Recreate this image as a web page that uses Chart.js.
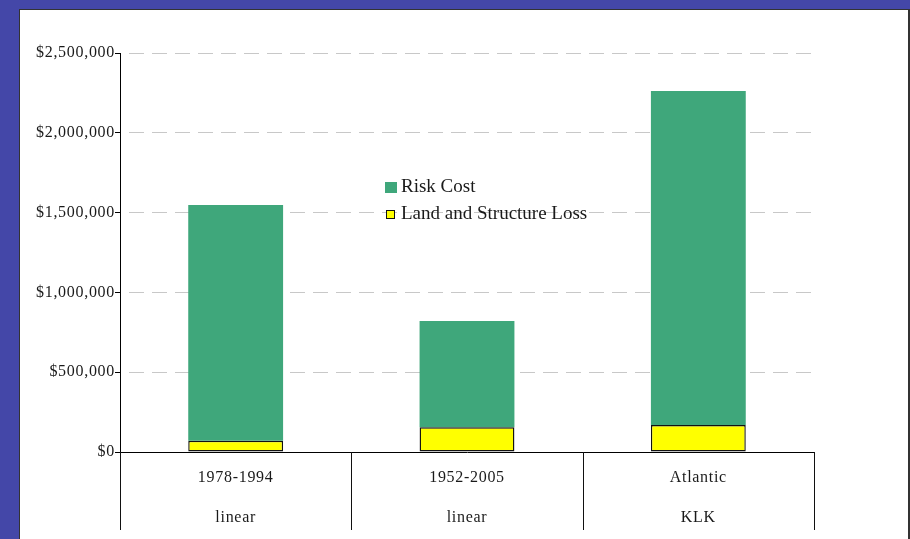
<!DOCTYPE html>
<html>
<head>
<meta charset="utf-8">
<script src="https://cdn.jsdelivr.net/npm/chart.js@4.4.1/dist/chart.umd.min.js"></script>
<style>
  html, body { margin: 0; padding: 0; width: 910px; height: 539px; overflow: hidden; background: #4447a8; }
  #panel { position: absolute; left: 19px; top: 9px; width: 891px; height: 545px; background: #fff;
           border: 1px solid #333; border-right: 2px solid #333; box-sizing: border-box; }
  #c { position: absolute; left: 0; top: 0; }
</style>
</head>
<body>
<div id="panel"></div>
<canvas id="c" width="910" height="539"></canvas>
<script>
// ===== Datos =====
const categories = [['1978-1994', 'linear'], ['1952-2005', 'linear'], ['Atlantic', 'KLK']];
const landLoss = [70000, 155000, 169000];
const riskCost = [1478000, 666000, 2093000];
const yTicks = [0, 500000, 1000000, 1500000, 2000000, 2500000];

const SERIF = "'Liberation Serif', 'Times New Roman', serif";
const GREEN = '#3fa77b', YELLOW = '#ffff00', INK = '#1a1a1a';

// divisores de categorías + leyenda dentro del gráfico
const extras = {
    id: 'extras',
    beforeLayout(chart) { chart.ctx.letterSpacing = '0.7px'; },
    beforeDraw(chart) { chart.ctx.letterSpacing = '0.7px'; },
    afterDraw(chart) {
        const { ctx, chartArea, scales: { x } } = chart;
        const n = chart.data.labels.length;
        const w = (x.right - x.left) / n;
        ctx.save();
        ctx.letterSpacing = '0px';
        ctx.strokeStyle = '#111';
        ctx.lineWidth = 1;
        for (let i = 0; i <= n; i++) {
            const px = Math.round(x.left + i * w) + 0.5;
            ctx.beginPath();
            ctx.moveTo(px, chartArea.bottom);
            ctx.lineTo(px, chartArea.bottom + 78);
            ctx.stroke();
        }
        // leyenda
        const items = chart.data.datasets.slice().reverse();
        ctx.font = '19px ' + SERIF;
        ctx.textBaseline = 'middle';
        items.forEach((ds, i) => {
            const cy = 187 + i * 27;
            if (ds.borderWidth) {
                ctx.fillStyle = ds.backgroundColor;
                ctx.fillRect(386, cy - 4, 9, 9);
                ctx.strokeStyle = ds.borderColor;
                ctx.strokeRect(386.5, cy - 3.5, 8, 8);
            } else {
                ctx.fillStyle = ds.backgroundColor;
                ctx.fillRect(385, cy - 5, 12, 11);
            }
            ctx.fillStyle = INK;
            ctx.fillText(ds.label, 401, cy);
        });
        ctx.restore();
    }
};

new Chart(document.getElementById('c'), {
    type: 'bar',
    data: {
        labels: categories,
        datasets: [
            { label: 'Land and Structure Loss', data: landLoss, backgroundColor: YELLOW, borderColor: '#111',
              borderWidth: 1.4, borderSkipped: false, categoryPercentage: 1, barPercentage: 0.41 },
            { label: 'Risk Cost', data: riskCost, backgroundColor: GREEN, borderWidth: 0,
              categoryPercentage: 1, barPercentage: 0.41 }
        ]
    },
    options: {
        responsive: false,
        animation: false,
        layout: { padding: { top: 53, right: 96, left: 0, bottom: 0 } },
        plugins: { legend: { display: false }, tooltip: { enabled: false } },
        scales: {
            x: {
                stacked: true,
                grid: { display: false, drawTicks: false },
                border: { color: '#000', width: 1 },
                ticks: { color: INK, padding: 6, maxRotation: 0, autoSkip: false,
                         font: { family: SERIF, size: 16, lineHeight: '40px' } },
                afterFit(s) { s.height = 87; }
            },
            y: {
                stacked: true,
                min: 0, max: 2500000,
                afterBuildTicks(s) { s.ticks = yTicks.map(v => ({ value: v })); },
                ticks: { color: INK, padding: 0, font: { family: SERIF, size: 16 },
                         callback: v => '$' + Number(v).toLocaleString('en-US') },
                grid: { color: c => (c.tick && c.tick.value === 0) ? 'rgba(0,0,0,0)' : '#c8c8c8',
                        tickColor: '#000', tickLength: 5, tickWidth: 1 },
                border: { color: '#000', width: 1, dash: [15, 8], dashOffset: 15 },
                afterFit(s) { s.width = 120; }
            }
        }
    },
    plugins: [extras]
});
</script>
</body>
</html>
